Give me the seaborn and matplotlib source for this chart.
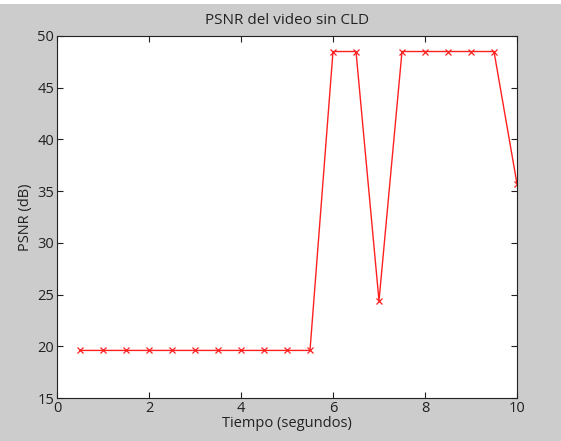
import matplotlib
matplotlib.use("Agg")
import matplotlib.pyplot as plt
import seaborn as sns
import pandas as pd

# datos
tiempo = [0.5, 1.0, 1.5, 2.0, 2.5, 3.0, 3.5, 4.0, 4.5, 5.0,
          5.5, 6.0, 6.5, 7.0, 7.5, 8.0, 8.5, 9.0, 9.5, 10.0]
psnr = [19.6, 19.6, 19.6, 19.6, 19.6, 19.6, 19.6, 19.6, 19.6, 19.6,
        19.6, 48.5, 48.5, 24.4, 48.5, 48.5, 48.5, 48.5, 48.5, 35.7]
xticks = [0, 2, 4, 6, 8, 10]
yticks = [15, 20, 25, 30, 35, 40, 45, 50]

df = pd.DataFrame({'tiempo': tiempo, 'psnr': psnr})

sns.set_style("white")
plt.rcParams['font.family'] = ['Open Sans', 'DejaVu Sans']

fig = plt.figure(figsize=(5.61, 4.41), dpi=100, facecolor='#cccccc')
# franja blanca arriba como en la captura
fig.patches.append(plt.Rectangle((0, 1 - 4 / 441), 1, 4 / 441, transform=fig.transFigure,
                                 facecolor='white', edgecolor='none', zorder=0))
ax = fig.add_axes([57 / 561, 43 / 441, 460 / 561, 362 / 441])
ax.set_facecolor('white')

sns.lineplot(data=df, x='tiempo', y='psnr', ax=ax, color='#ff2020', linewidth=1.0,
             marker='x', markersize=4, markeredgecolor='#ff2020', markeredgewidth=0.9)

ax.set_xlim(0, 10)
ax.set_ylim(15, 50)
ax.set_xticks(xticks)
ax.set_yticks(yticks)
ax.tick_params(direction='in', length=4, width=0.8, color='#222222', labelsize=10.5,
               labelcolor='#222222', top=True, right=True, bottom=True, left=True, pad=2)
for s in ax.spines.values():
    s.set_color('#222222')
    s.set_linewidth(0.8)

ax.set_title('PSNR del video sin CLD', fontsize=11, color='#222222', pad=9)
ax.set_xlabel('Tiempo (segundos)', fontsize=10.5, color='#222222', labelpad=0)
ax.set_ylabel('PSNR (dB)', fontsize=10.5, color='#222222', labelpad=3)

fig.savefig('out.png', dpi=100, facecolor=fig.get_facecolor())
